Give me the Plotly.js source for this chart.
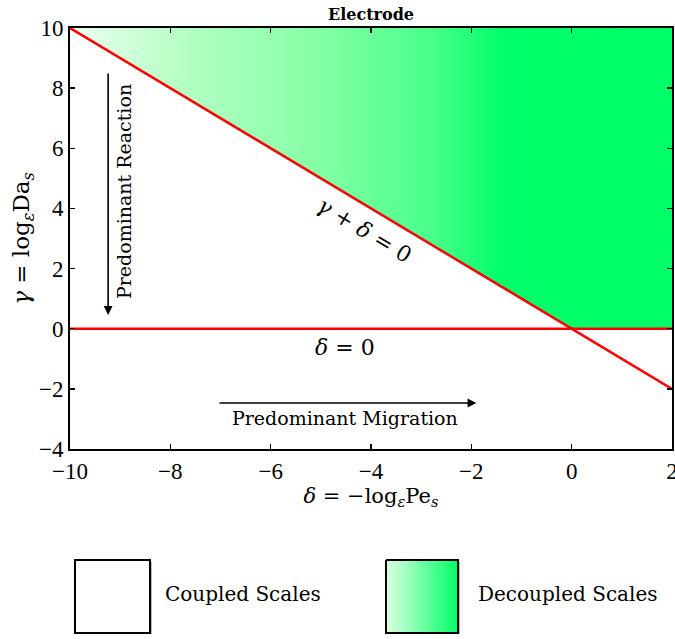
<!DOCTYPE html>
<html>
<head>
<meta charset="utf-8">
<script src="https://cdn.plot.ly/plotly-3.0.1.min.js"></script>
<style>html,body{margin:0;padding:0;background:#fff;}</style>
</head>
<body>
<div id="chart" style="width:675px;height:639px;"></div>
<script>
// ---- data ----
const diagDelta = [-10, 2];          // gamma + delta = 0
const diagGamma = [10, -2];
const zeroDelta = [-10, 2];          // delta = 0 line (gamma = 0)
const zeroGamma = [0, 0];
const regionDelta = [-10, 2, 2, 0, -10];   // decoupled region
const regionGamma = [10, 10, 0, 0, 10];
const xTicks = [-10, -8, -6, -4, -2, 0, 2];
const yTicks = [-4, -2, 0, 2, 4, 6, 8, 10];
const legendLabels = ['Coupled Scales', 'Decoupled Scales'];

const TICKFONT = 'Liberation Serif';
const FONT = 'DejaVu Serif';
const gradScale = [
  [0.0, 'rgb(236,255,239)'],
  [0.2, 'rgb(178,255,194)'],
  [0.4, 'rgb(136,255,168)'],
  [0.6, 'rgb(74,255,138)'],
  [0.72, 'rgb(0,255,106)'],
  [1.0, 'rgb(0,255,102)']
];

const traces = [
  {
    x: regionDelta, y: regionGamma, type: 'scatter', mode: 'none',
    fill: 'toself',
    fillgradient: {type: 'horizontal', start: -10, stop: 2, colorscale: gradScale},
    hoverinfo: 'skip', showlegend: false
  },
  {
    x: zeroDelta, y: zeroGamma, type: 'scatter', mode: 'lines',
    line: {color: '#ff0000', width: 2.5}, showlegend: false
  },
  {
    x: diagDelta, y: diagGamma, type: 'scatter', mode: 'lines',
    line: {color: '#ff0000', width: 2.5}, showlegend: false
  },
  // legend swatch (decoupled) on auxiliary axes
  {
    x: [386, 458, 458, 386, 386], y: [560, 560, 633, 633, 560],
    xaxis: 'x2', yaxis: 'y2', type: 'scatter', mode: 'lines',
    line: {color: '#000', width: 2},
    fill: 'toself',
    fillgradient: {type: 'horizontal', start: 386, stop: 458,
      colorscale: [[0, 'rgb(222,255,226)'], [1, 'rgb(0,255,102)']]},
    hoverinfo: 'skip', showlegend: false
  }
];

const axisCommon = {
  showgrid: false, zeroline: false, showline: true, mirror: 'allticks',
  linecolor: '#000', linewidth: 2, ticks: 'inside', ticklen: 5, tickwidth: 1.5,
  tickcolor: '#000', ticklabeloverflow: 'allow',
  tickfont: {family: TICKFONT, size: 23, color: '#000'}
};

const fmt = v => v < 0 ? '\u2212' + Math.abs(v) : String(v);

const layout = {
  width: 675, height: 639,
  font: {family: TICKFONT, size: 20, color: '#000'},
  margin: {l: 70, r: 3, t: 28, b: 5, pad: 0},
  paper_bgcolor: '#fff', plot_bgcolor: 'rgba(0,0,0,0)',
  title: {
    text: '<b>Electrode</b>', font: {family: FONT, size: 16, color: '#000'},
    x: 0.5, xref: 'paper', xanchor: 'center', y: 1 - 14 / 639, yref: 'container', yanchor: 'middle'
  },
  xaxis: Object.assign({}, axisCommon, {
    range: [-10, 2], tickvals: xTicks, ticktext: xTicks.map(fmt),
    anchor: 'y',
    title: {text: '<i>δ</i> = \u2212log<sub><i>ε</i></sub>Pe<sub><i>s</i></sub>', font: {family: FONT, size: 21, color: '#000'}, standoff: 0}
  }),
  yaxis: Object.assign({}, axisCommon, {
    range: [-4, 10], tickvals: yTicks, ticktext: yTicks.map(fmt),
    domain: [(634 - 449) / 606, 1], anchor: 'x',
    title: {text: '<i>γ</i> = log<sub><i>ε</i></sub>Da<sub><i>s</i></sub>', font: {family: FONT, size: 23, color: '#000'}, standoff: 3}
  }),
  xaxis2: {domain: [0, 1], range: [70, 672], visible: false, anchor: 'y2', fixedrange: true},
  yaxis2: {domain: [0, 0.3], range: [634, 634 - 0.3 * 606], visible: false, anchor: 'x2', fixedrange: true},
  shapes: [
    {type: 'rect', xref: 'x2', yref: 'y2', x0: 77, x1: 152, y0: 562, y1: 635, fillcolor: '#bbb', line: {width: 0}, layer: 'below'},
    {type: 'rect', xref: 'x2', yref: 'y2', x0: 75, x1: 150, y0: 560, y1: 633, fillcolor: '#fff', line: {color: '#000', width: 2}, layer: 'below'},
    {type: 'rect', xref: 'x2', yref: 'y2', x0: 388, x1: 460, y0: 562, y1: 635, fillcolor: '#bbb', line: {width: 0}, layer: 'below'}
  ],
  annotations: [
    {x: -4.12, y: 3.28, xref: 'x', yref: 'y', text: '<i>γ</i> + <i>δ</i> = 0', showarrow: false,
     textangle: 31, font: {family: FONT, size: 22, color: '#000'}},
    {x: -4.52, y: -0.61, xref: 'x', yref: 'y', text: '<i>δ</i> = 0', showarrow: false,
     font: {family: FONT, size: 22, color: '#000'}},
    // migration arrow
    {x: -1.9, y: -2.47, ax: -7.05, ay: -2.47, xref: 'x', yref: 'y', axref: 'x', ayref: 'y',
     text: '', showarrow: true, arrowhead: 2, arrowsize: 1.1, arrowwidth: 1.6, arrowcolor: '#000'},
    {x: -4.52, y: -2.97, xref: 'x', yref: 'y', text: 'Predominant Migration', showarrow: false,
     font: {family: FONT, size: 19, color: '#000'}},
    // reaction arrow
    {x: -9.24, y: 0.46, ax: -9.24, ay: 8.54, xref: 'x', yref: 'y', axref: 'x', ayref: 'y',
     text: '', showarrow: true, arrowhead: 2, arrowsize: 1.1, arrowwidth: 1.6, arrowcolor: '#000'},
    {x: -8.92, y: 4.55, xref: 'x', yref: 'y', text: 'Predominant Reaction', showarrow: false,
     textangle: -90, font: {family: FONT, size: 19, color: '#000'}},
    // legend labels
    {x: 163, y: 594, xref: 'x2', yref: 'y2', text: legendLabels[0], showarrow: false, xanchor: 'left',
     font: {family: FONT, size: 20, color: '#000'}},
    {x: 476, y: 594, xref: 'x2', yref: 'y2', text: legendLabels[1], showarrow: false, xanchor: 'left',
     font: {family: FONT, size: 20, color: '#000'}}
  ]
};

Plotly.newPlot('chart', traces, layout, {displayModeBar: false, staticPlot: true});
</script>
</body>
</html>
